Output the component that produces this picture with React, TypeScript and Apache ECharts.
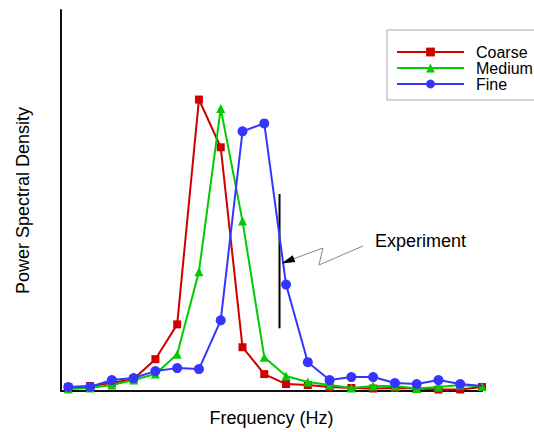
import React, { useEffect, useRef } from "react";
import * as echarts from "echarts";

const frequencyIndex = [1, 2, 3, 4, 5, 6, 7, 8, 9, 10, 11, 12, 13, 14, 15, 16, 17, 18, 19, 20];
const coarse = [4, 5, 8, 12, 32, 67, 293, 245, 44, 17, 7, 6, 4, 3, 2.5, 3, 2.5, 1.5, 1.5, 4];
const medium = [2, 3, 6, 11, 17, 37, 120, 284, 171, 34, 15, 9, 6, 3, 5, 5, 2.5, 4, 6, 4.5];
const fine = [4, 4, 11, 13, 20, 23, 22, 71, 261, 269, 107, 29, 11, 14, 14, 8, 7, 11, 7, 5];
const experimentX = [10.7, 10.7];
const experimentY = [63, 198];

const FONT = "Liberation Sans, Arial, Helvetica, sans-serif";

export default function App() {
  const ref = useRef<HTMLDivElement>(null);
  useEffect(() => {
    document.body.style.margin = "0";
    if (!ref.current) return;
    const chart = echarts.init(ref.current, null, { renderer: "svg" });
    const pairs = (ys: number[]) =>
      ys.map((y, i) =>
        i === ys.length - 1 && ys === fine
          ? { value: [frequencyIndex[i], y], symbol: "none" }
          : [frequencyIndex[i], y]
      );
    chart.setOption({
      animation: false,
      textStyle: { fontFamily: FONT },
      grid: { left: 61, right: 52, top: 10, bottom: 39 },
      legend: {
        orient: "vertical",
        left: 387,
        top: 30,
        padding: [14, 12, 8, 9],
        borderColor: "#aaaaaa",
        borderWidth: 1,
        itemWidth: 67,
        itemHeight: 11,
        itemGap: 0,
        textStyle: { fontSize: 16, lineHeight: 16, color: "#000", fontFamily: FONT, padding: [0, 0, 0, 7] },
        data: ["Coarse", "Medium", "Fine"],
      },
      xAxis: {
        type: "value",
        min: 0.664,
        max: 20,
        axisLine: { lineStyle: { color: "#111", width: 2 } },
        axisTick: { show: false },
        axisLabel: { show: false },
        splitLine: { show: false },
        name: "Frequency (Hz)",
        nameLocation: "middle",
        nameGap: 18,
        nameTextStyle: { fontSize: 18, color: "#000", fontFamily: FONT },
      },
      yAxis: {
        type: "value",
        min: 0,
        max: 383,
        axisLine: { show: true, lineStyle: { color: "#111", width: 2 } },
        axisTick: { show: false },
        axisLabel: { show: false },
        splitLine: { show: false },
        name: "Power Spectral Density",
        nameLocation: "middle",
        nameRotate: 90,
        nameGap: 29,
        nameTextStyle: { fontSize: 18, color: "#000", fontFamily: FONT },
      },
      series: [
        {
          name: "Coarse",
          type: "line",
          data: pairs(coarse),
          symbol: "rect",
          symbolSize: 8,
          lineStyle: { color: "#d00000", width: 2 },
          itemStyle: { color: "#d00000" },
          z: 3,
        },
        {
          name: "Medium",
          type: "line",
          data: pairs(medium),
          symbol: "triangle",
          symbolSize: 9,
          lineStyle: { color: "#00cc00", width: 2 },
          itemStyle: { color: "#00cc00" },
          z: 4,
        },
        {
          name: "Fine",
          type: "line",
          data: pairs(fine),
          symbol: "circle",
          symbolSize: 10,
          lineStyle: { color: "#3535ff", width: 2 },
          itemStyle: { color: "#3535ff" },
          z: 5,
        },
        {
          name: "Experiment",
          type: "line",
          data: experimentX.map((x, i) => [x, experimentY[i]]),
          symbol: "none",
          lineStyle: { color: "#000", width: 2 },
          z: 2,
        },
      ],
      graphic: [
        {
          type: "polyline",
          shape: { points: [[363, 246], [319, 265], [323, 248], [293, 259]] },
          style: { stroke: "#888", lineWidth: 1, fill: null },
          z: 10,
        },
        {
          type: "polygon",
          shape: { points: [[281.5, 263.5], [292.7, 255.3], [295.3, 261.9]] },
          style: { fill: "#000" },
          z: 10,
        },
        {
          type: "text",
          left: 375,
          top: 232,
          style: { text: "Experiment", fontSize: 18, fill: "#000", fontFamily: FONT },
          z: 10,
        },
      ],
    });
    return () => chart.dispose();
  }, []);
  return <div ref={ref} style={{ width: 534, height: 432 }} />;
}
